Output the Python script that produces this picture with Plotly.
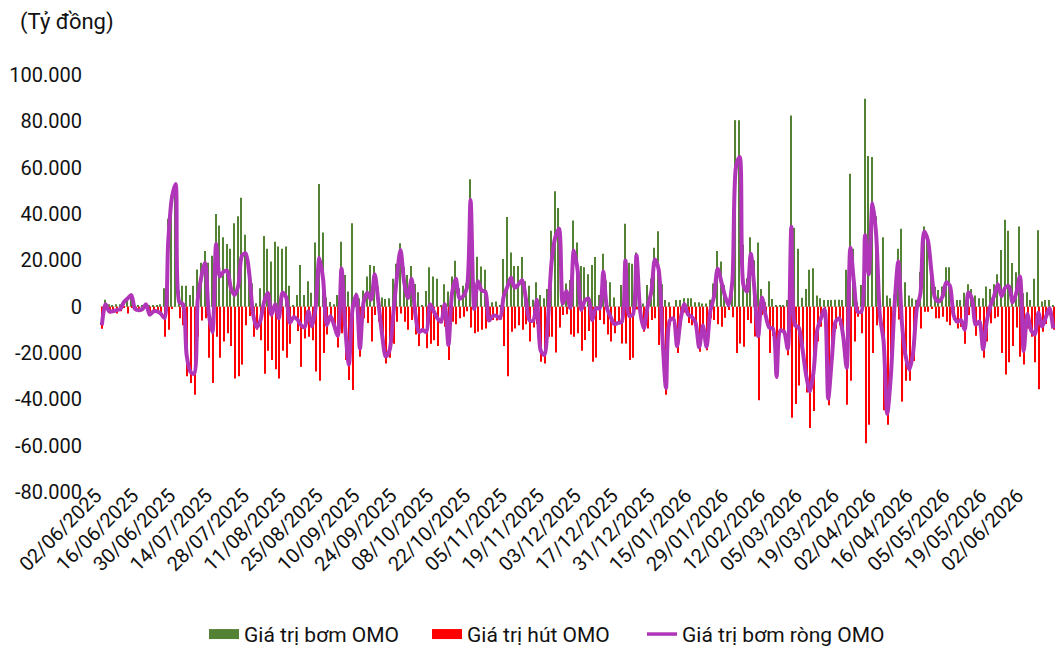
import pandas as pd
import plotly.graph_objects as go

# Trading days (business days excluding Vietnamese public holidays)
START_DATE = "2025-06-02"
END_DATE = "2026-06-12"
HOLIDAYS = ["2025-09-01", "2025-09-02", "2026-01-01",
            "2026-02-16", "2026-02-17", "2026-02-18", "2026-02-19", "2026-02-20",
            "2026-04-27", "2026-04-30", "2026-05-01"]
dates = [d for d in pd.bdate_range(START_DATE, END_DATE) if d.strftime("%Y-%m-%d") not in HOLIDAYS]
categories = [d.strftime("%d/%m/%Y") for d in dates]

# Values in thousand tỷ đồng
bom_omo = [
    0, 3, 1, 0.5, 1, 1, 2, 4, 5.5, 0.5,
    0.5, 0.5, 1.5, 0.5, 0.5, 0.5, 1, 8, 38, 48,
    53, 7, 9, 9, 5, 9, 16, 19, 24, 19,
    22, 40, 35, 30, 27, 25, 36, 39, 47, 31,
    18, 10, 1.5, 8, 30.5, 25, 19.5, 28, 26, 25,
    26, 9, 0.7, 5, 18, 5, 11, 6, 27.7, 53,
    32, 4, 2, 1, 5, 28, 13.7, 6.5, 36, 6,
    3.6, 7, 13, 18, 17.6, 8.5, 4, 3.3, 3.6, 12,
    18.5, 27.4, 17, 13.7, 17.6, 9.8, 6.2, 0.4, 6.8, 17,
    13, 12, 0.4, 9.7, 6.5, 13, 19.8, 8, 9, 10,
    55, 10.5, 21.6, 17.3, 15.9, 0.5, 1.9, 2.2, 0.3, 20.6,
    38.7, 23.4, 17.6, 17.6, 21.4, 11, 9, 3, 10.5, 5,
    3.6, 7.6, 32.8, 49.8, 42.6, 5, 10, 11.5, 37.2, 27.7,
    17.6, 17, 14, 18, 21.4, 5, 22.8, 11.3, 10.5, 4,
    0, 9.4, 35.8, 19, 18.5, 23.4, 0, 1.4, 9.4, 12,
    25.4, 32.6, 9.7, 2.9, 1.9, 0, 2.9, 2.9, 3.6, 3.6,
    3.6, 1.9, 1.9, 1.4, 1.4, 3, 10, 24, 19.5, 9.4,
    2, 15.6, 80.5, 80.5, 26.7, 12.3, 30, 20, 27.7, 7.6,
    2, 11, 3.3, 0.7, 0.7, 0.7, 2.9, 82.5, 34, 25,
    3.9, 7.6, 15.9, 16.6, 4.8, 3.6, 2.9, 2.9, 2.9, 3,
    3, 2.9, 15.9, 57.4, 25, 2, 9.4, 89.8, 65, 64.6,
    39, 4, 30, 4.8, 3.6, 5, 25, 33.6, 10.5, 4.8,
    3.6, 3, 15, 34.6, 31, 16, 8.6, 7.2, 8.7, 17,
    17, 2.2, 2.9, 2.9, 6, 9.7, 7.6, 4.8, 3.6, 3.6,
    8.7, 7.6, 9.7, 14, 24.5, 37.5, 32.8, 18.8, 14.9, 34.6,
    5.8, 6.2, 2.9, 12, 33, 2.2, 2.9, 2.9, 0.7,
]

hut_omo = [
    -9.5, -1, -3, -2.5, -3, -2, -0.5, -3, -0.5, -2,
    -2, -1.5, -0.5, -4, -2.5, -2.5, -4, -13, -10, -1,
    0, -5, -8, -30, -33, -38, -13, -6, -5, -22,
    -33, -13, -22, -15, -11.5, -17, -31, -30, -25, -8,
    -4, -13, -10, -14.5, -29, -19, -23, -27, -31, -19,
    -22, -16, -5, -10.5, -26, -13.7, -13, -14.5, -28, -32,
    -20, -12, -6, -9, -17.6, -11.5, -23, -31.7, -36, -1,
    -21.6, -5, -7, -15, -3.6, -6.5, -16, -24.5, -22, -16,
    -6.5, -3, -6.5, -10, -5.8, -12, -17, -10.5, -18, -16,
    -14.5, -17, -7, -8.7, -23, -6.5, -7.6, -5, -4.3, -2,
    -9, -11.5, -10.8, -10, -9.4, -6.5, -5.8, -6, -5.5, -17,
    -30, -10.8, -9.4, -8, -10, -7.6, -15, -9, -7.5, -23.8,
    -24.5, -13, -13, -19.8, -9, -3.6, -3.3, -12, -13, -11.5,
    -19, -14.4, -10.5, -23.8, -22, -5.8, -7.6, -12, -15, -11.5,
    -7, -15.9, -15.9, -23, -22, -1.2, -2, -10.8, -9.4, -5.8,
    -5, -16.5, -22, -38, -8, -5, -20, -8, -2.5, -7,
    -8, -8.7, -19.5, -9.5, -18.8, -5, -5.8, -7.6, -8.7, -4.8,
    -1.4, -4.6, -20, -15.9, -17.3, -5.8, -7.2, -12.9, -40.4, -3.6,
    -5.6, -20, -12.7, -31, -11, -11.5, -21, -48, -42, -34,
    -22, -37, -52.4, -45, -15, -8.7, -4, -42.6, -25, -9.5,
    -8, -15, -42.3, -32, -15, -4.3, -11.5, -59, -51, -20,
    -8, -7.6, -44.7, -51, -33, -4, -5.5, -41, -32, -32,
    -23.5, -4, -9.4, -2.2, -2.2, -1, -5, -5, -4.3, -6.5,
    -8, -5.8, -9.4, -8.7, -16, -3.6, -4.3, -12.6, -10, -22,
    -15, -7.2, -5, -4.3, -20, -29.3, -24, -17, -9, -21.6,
    -25, -9.4, -13, -24, -35.6, -10.8, -7.5, -3.6, -10,
]

bom_rong_omo = [
    -8, 1, -2, -2, -1.5, -1, 2, 3.5, 5, -1,
    -1.5, -1, 1, -3.5, -2, -2, -3, -5, 28, 47,
    53, 2, 1, -21, -28, -29, 3, 13, 19, -3,
    -11, 27, 13, 15, 15.5, 8, 5, 9, 22, 23,
    14, -3, -9, -6, 2, 6, -3.5, 1, -5, 6,
    4, -7, -4.5, -5.5, -8, -9, -2, -8.5, 0, 21,
    12, -8, -4, -8, -12.6, 16.5, -9, -25, -1, 5,
    -18, 2, 6, 3, 14, 2, -12, -21.5, -19, -4,
    12.5, 24.5, 10.5, 3.7, 12, -3, -11, -10, -11, 1,
    -2, -5, -6.5, 1, -16.5, 6, 12, 3.5, 4.5, 8,
    46, -1, 11, 7, 6.5, -6, -4, -4, -5, 4.5,
    8.6, 12.6, 8.2, 9.6, 11.4, 3.4, -6, -6, 3, -18.8,
    -20.9, -5.4, 19.8, 30, 33.6, 1.4, 6.7, -0.5, 24.2, 16.2,
    -1.4, 2.6, 3.5, -5.8, -0.6, -0.8, 15.2, -0.7, -4.5, -7.5,
    -7, -6.5, 19.9, -4, -3.5, 22.2, -2, -9.4, 0, 6.2,
    20.4, 16.1, -12.3, -35.1, -6.1, -5, -17.1, -5.1, 1.1, -3.4,
    -4.4, -6.8, -17.6, -8.1, -17.4, -2, 4.2, 16.4, 10.8, 4.6,
    0.6, 11, 60.5, 64.6, 9.4, 6.5, 22.8, 7.1, -12.7, 4,
    -3.6, -9, -9.4, -30.3, -10.3, -10.8, -18.1, 34.5, -8, -9,
    -18.1, -29.4, -36.5, -28.4, -10.2, -5.1, -1.1, -39.7, -22.1, -6.5,
    -5, -12.1, -26.4, 25.4, 10, -2.3, -2.1, 30.8, 14, 44.6,
    31, -3.6, -14.7, -46.2, -29.4, 1, 19.5, -7.4, -21.5, -27.2,
    -20, -1, 5.6, 32.4, 28.8, 15, 3.6, 2.2, 4.4, 10.5,
    9, -3.6, -6.5, -5.8, -10, 6.1, 3.3, -7.8, -6.4, -18.4,
    -6.3, 0.4, 4.7, 9.7, 4.5, 8.2, 8.8, 1.8, 5.9, 13,
    -19.2, -3.2, -10.1, -12, -2.6, -8.6, -4.6, -0.7, -9.4,
]

SCALE = 1000  # thousand tỷ -> tỷ đồng
y_ticks = [-80000, -60000, -40000, -20000, 0, 20000, 40000, 60000, 80000, 100000]
y_tick_labels = ["-80.000", "-60.000", "-40.000", "-20.000", "0",
                 "20.000", "40.000", "60.000", "80.000", "100.000"]
x_tick_step = 10
x_tickvals = categories[::x_tick_step]

GREEN = "#548235"
RED = "#FF0000"
PURPLE = "#B035B8"
FONT = "Roboto"
TEXT = "#111111"

fig = go.Figure()
fig.add_trace(go.Bar(x=categories, y=[v * SCALE for v in bom_omo], name="Giá trị bơm OMO",
                     marker=dict(color=GREEN, line=dict(width=0)), showlegend=False))
fig.add_trace(go.Bar(x=categories, y=[v * SCALE for v in hut_omo], name="Giá trị hút OMO",
                     marker=dict(color=RED, line=dict(width=0)), showlegend=False))
fig.add_trace(go.Scatter(x=categories, y=[v * SCALE for v in bom_rong_omo], name="Giá trị bơm ròng OMO",
                         mode="lines", showlegend=False,
                         line=dict(color=PURPLE, width=4, shape="spline", smoothing=0.8)))
# legend entries (wide rectangles for bars, line for net series), one legend each
fig.add_trace(go.Scatter(x=[None], y=[None], mode="lines", name="Giá trị bơm OMO",
                         line=dict(color=GREEN, width=12), legend="legend"))
fig.add_trace(go.Scatter(x=[None], y=[None], mode="lines", name="Giá trị hút OMO",
                         line=dict(color=RED, width=12), legend="legend2"))
fig.add_trace(go.Scatter(x=[None], y=[None], mode="lines", name="Giá trị bơm ròng OMO",
                         line=dict(color=PURPLE, width=3.5), legend="legend3"))

legend_common = dict(orientation="h", xanchor="left", xref="container",
                     yref="container", y=0.024, yanchor="middle",
                     font=dict(family=FONT, size=21, color=TEXT), itemwidth=30,
                     bgcolor="rgba(0,0,0,0)")

fig.update_layout(
    width=1056, height=650,
    margin=dict(l=100, r=1, t=75, b=158, autoexpand=False),
    paper_bgcolor="white", plot_bgcolor="white",
    barmode="group", bargap=0.42, bargroupgap=0,
    font=dict(family=FONT, size=20, color=TEXT),
    title=dict(text="(Tỷ đồng)", x=20 / 1056, xref="container", xanchor="left",
               y=1 - 21 / 650, yref="container", yanchor="middle",
               font=dict(family=FONT, size=22, color=TEXT)),
    legend=dict(x=204 / 1056, **legend_common),
    legend2=dict(x=427 / 1056, **legend_common),
    legend3=dict(x=642 / 1056, **legend_common),
    showlegend=True,
)
fig.update_xaxes(type="category", range=[-0.5, len(categories) - 0.5],
                 tickmode="array", tickvals=x_tickvals, ticktext=x_tickvals,
                 tickangle=-45, tickfont=dict(size=20), showgrid=False,
                 showline=False, ticks="", zeroline=False, automargin=False,
                 ticklabelstandoff=-13, ticklabelshift=-6)
fig.update_yaxes(range=[-80000, 100000], tickmode="array", tickvals=y_ticks,
                 ticktext=y_tick_labels, tickfont=dict(size=20), showgrid=False,
                 zeroline=True, zerolinecolor="#D9D9D9", zerolinewidth=1,
                 showline=False, ticks="", ticklabelstandoff=17, automargin=False)

fig.write_html("out.html", config={"displayModeBar": False},
               post_script="document.body.style.margin='0';")
